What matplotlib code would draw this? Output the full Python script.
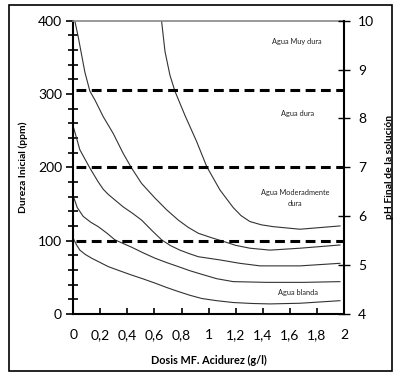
import matplotlib
matplotlib.use("Agg")
import matplotlib.pyplot as plt
from matplotlib.ticker import MultipleLocator, FuncFormatter
from matplotlib.patches import Rectangle

plt.rcParams['font.family'] = ['Lato', 'DejaVu Sans']

# Curves (x: dose g/l, y: hardness ppm)
curve_a_x = [0.0, 0.025, 0.049, 0.09, 0.136, 0.2, 0.259, 0.34, 0.431, 0.52, 0.604, 0.69, 0.776, 0.86, 0.949, 1.06, 1.182, 1.32, 1.453, 1.675, 1.97]
curve_a_y = [103, 94, 87, 81, 76, 70, 64.5, 59, 53, 47.5, 42, 36, 30.5, 25.5, 21, 18, 15.5, 14.2, 13.6, 14.5, 18]

curve_b_x = [0.0, 0.03, 0.074, 0.13, 0.185, 0.25, 0.308, 0.431, 0.52, 0.604, 0.69, 0.776, 0.86, 0.949, 1.06, 1.182, 1.43, 1.7, 1.97]
curve_b_y = [161, 145, 133, 125, 119, 110, 101, 91, 83, 76, 70, 64.5, 59, 54, 48, 44, 43, 43, 44]

curve_c_x = [0.0, 0.049, 0.123, 0.185, 0.222, 0.259, 0.369, 0.44, 0.505, 0.58, 0.653, 0.72, 0.788, 0.86, 0.924, 1.084, 1.23, 1.38, 1.675, 1.97]
curve_c_y = [256, 224, 199, 180, 170, 163, 146, 137, 128, 114, 101, 93, 87, 82, 78, 73.6, 69, 65.5, 65.5, 69]

curve_d_x = [0.013, 0.037, 0.086, 0.123, 0.16, 0.222, 0.296, 0.369, 0.431, 0.505, 0.604, 0.69, 0.776, 0.85, 0.924, 1.02, 1.108, 1.2, 1.305, 1.453, 1.675, 1.97]
curve_d_y = [399, 378, 330, 304, 292, 269, 246, 219, 199, 178, 158, 142, 128, 118, 110, 104, 99, 93.5, 89.6, 87, 89.6, 94]

curve_e_x = [0.653, 0.678, 0.714, 0.751, 0.825, 0.912, 0.986, 1.084, 1.182, 1.24, 1.305, 1.39, 1.478, 1.675, 1.97]
curve_e_y = [399, 358, 326, 304, 271, 235, 201, 169, 145, 134, 126, 121.5, 119, 115.5, 120]

limits_ppm = [305, 200, 100]

zones = ["Agua Muy dura", "Agua dura", "Agua Moderadmente\ndura", "Agua blanda"]
zone_x = [1.65, 1.66, 1.64, 1.66]
zone_y = [371, 274, 158, 29]

x_ticks = [0, 0.2, 0.4, 0.6, 0.8, 1.0, 1.2, 1.4, 1.6, 1.8, 2.0]
y_ticks = [0, 100, 200, 300, 400]
ph_ticks = [4, 5, 6, 7, 8, 9, 10]

fig = plt.figure(figsize=(4.0, 3.8), dpi=100)
fig.patches.append(Rectangle((9/400, 1-371/380), (392-9)/400, (371-5)/380,
                             transform=fig.transFigure, fill=False,
                             edgecolor='black', linewidth=1.2))
ax = fig.add_axes([0.183, 0.174, 0.677, 0.7715])

line_color = '#333333'
for xs, ys in [(curve_a_x, curve_a_y), (curve_b_x, curve_b_y), (curve_c_x, curve_c_y),
               (curve_d_x, curve_d_y), (curve_e_x, curve_e_y)]:
    ax.plot(xs, ys, color=line_color, linewidth=0.8)

for yv in limits_ppm:
    ax.plot([0.02, 2.0], [yv, yv], color='black', linewidth=2.2,
            linestyle=(0, (3.2, 1.8)))

for t, xv, yv in zip(zones, zone_x, zone_y):
    ax.text(xv, yv, t, fontsize=5.3, ha='center', va='center', color='#222222',
            linespacing=1.6)

ax.set_xlim(0, 2)
ax.set_ylim(0, 400)
ax.set_xticks(x_ticks)
ax.xaxis.set_major_formatter(FuncFormatter(lambda v, p: ('%g' % round(v, 1)).replace('.', ',')))
ax.set_yticks(y_ticks)
ax.yaxis.set_minor_locator(MultipleLocator(20))
ax.tick_params(axis='x', direction='in', length=4, width=1.2, labelsize=10, pad=11)
ax.tick_params(axis='y', which='major', direction='out', length=5, width=1.2, labelsize=10, pad=3)
ax.tick_params(axis='y', which='minor', direction='inout', length=7, width=1.2)

for s in ['left', 'bottom']:
    ax.spines[s].set_linewidth(1.5)
ax.spines['right'].set_visible(False)
ax.spines['top'].set_color('#888888')
ax.spines['top'].set_linewidth(1.2)

ax.set_xlabel('Dosis MF. Acidurez (g/l)', fontsize=7.8, fontweight='bold', labelpad=10)
ax.set_ylabel('Dureza Inicial (ppm)', fontsize=7.5, fontweight='bold', labelpad=7)

ax2 = ax.twinx()
ax2.set_ylim(4, 10)
ax2.set_yticks(ph_ticks)
ax2.tick_params(axis='y', direction='inout', length=8, width=1.0, labelsize=10, pad=6)
for s in ['left', 'top', 'bottom']:
    ax2.spines[s].set_visible(False)
ax2.spines['right'].set_linewidth(1.5)
ax2.set_ylabel('pH Final de la solución', fontsize=7.5, fontweight='bold', labelpad=8)

fig.savefig('out.png', dpi=100)
